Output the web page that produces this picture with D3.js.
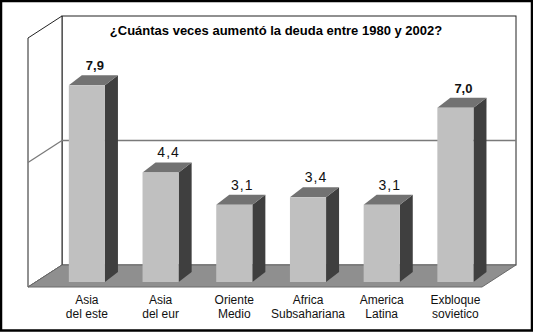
<!DOCTYPE html>
<html>
<head>
<meta charset="utf-8">
<script src="https://cdn.jsdelivr.net/npm/d3@7"></script>
<style>
  html, body { margin: 0; padding: 0; background: #fff; }
  svg { display: block; font-family: "Liberation Sans", Arial, sans-serif; }
</style>
</head>
<body>
<svg id="chart" width="533" height="332"></svg>
<script>
// Debt growth multiples by region, 1980 to 2002
const title = "¿Cuántas veces aumentó la deuda entre 1980 y 2002?";
const categories = [
  "Asia\ndel este",
  "Asia\ndel eur",
  "Oriente\nMedio",
  "Africa\nSubsahariana",
  "America\nLatina",
  "Exbloque\nsovietico"
];
const values = [7.9, 4.4, 3.1, 3.4, 3.1, 7.0];
const gridTicks = [5];

const svg = d3.select("#chart");
const W = 533, H = 332;

// 3-D box geometry
const depthX = 34, depthY = 22;          // wall/floor depth offset
const wallLeft = 62, wallRight = 516;
const floorBack = 265, wallTop = 16;
const barBase = 282;                      // front bottom edge of each column
const barDX = 13, barDY = 10;             // column depth offset

const wallY = d3.scaleLinear().domain([0, 10]).range([floorBack, wallTop]);
const barY = d3.scaleLinear().domain([0, 10]).range([barBase, 33]);
const x = d3.scaleBand().domain(categories).range([50.4, 491.9])
  .paddingInner(0.51).paddingOuter(0.25);

svg.append("rect").attr("width", W).attr("height", H).attr("fill", "#fff");

// back wall
svg.append("rect")
  .attr("x", wallLeft).attr("y", wallY(10))
  .attr("width", wallRight - wallLeft).attr("height", floorBack - wallY(10))
  .attr("fill", "#fff").attr("stroke", "#222").attr("stroke-width", 1);

// left side wall
svg.append("polygon")
  .attr("points", [
    [wallLeft - depthX, wallY(10) + depthY],
    [wallLeft, wallY(10)],
    [wallLeft, floorBack],
    [wallLeft - depthX, floorBack + depthY]
  ].map(p => p.join(",")).join(" "))
  .attr("fill", "#fff").attr("stroke", "#222").attr("stroke-width", 1);

// gridlines on back and side walls
const grid = svg.append("g").attr("stroke", "#7a7a7a").attr("stroke-width", 1.3).attr("fill", "none");
gridTicks.forEach(t => {
  grid.append("line")
    .attr("x1", wallLeft).attr("x2", wallRight)
    .attr("y1", wallY(t)).attr("y2", wallY(t));
  grid.append("line")
    .attr("x1", wallLeft - depthX).attr("y1", wallY(t) + depthY)
    .attr("x2", wallLeft).attr("y2", wallY(t));
});

// floor
svg.append("polygon")
  .attr("points", [
    [wallLeft - depthX, floorBack + depthY],
    [wallLeft, floorBack],
    [wallRight, floorBack],
    [wallRight - depthX, floorBack + depthY]
  ].map(p => p.join(",")).join(" "))
  .attr("fill", "#8f8f8f").attr("stroke", "#6a6a6a").attr("stroke-width", 1);

// columns
const data = categories.map((c, i) => ({ c, v: values[i] }));
const bw = x.bandwidth();
const bars = svg.append("g").selectAll("g").data(data).join("g");

bars.append("polygon") // side face
  .attr("points", d => {
    const x0 = x(d.c) + bw, yt = barY(d.v);
    return [[x0, yt], [x0 + barDX, yt - barDY], [x0 + barDX, barBase - barDY], [x0, barBase]]
      .map(p => p.join(",")).join(" ");
  })
  .attr("fill", "#3f3f3f");

bars.append("polygon") // top face
  .attr("points", d => {
    const x0 = x(d.c), yt = barY(d.v);
    return [[x0, yt], [x0 + barDX, yt - barDY], [x0 + bw + barDX, yt - barDY], [x0 + bw, yt]]
      .map(p => p.join(",")).join(" ");
  })
  .attr("fill", "#727272");

bars.append("rect") // front face
  .attr("x", d => x(d.c)).attr("y", d => barY(d.v))
  .attr("width", bw).attr("height", d => barBase - barY(d.v))
  .attr("fill", "#c0c0c0");

// value labels
const fmt = v => d3.format(".1f")(v).replace(".", ",");
bars.append("text")
  .attr("x", d => x(d.c) + bw / 2 + 8)
  .attr("y", d => barY(d.v) - 15)
  .attr("text-anchor", "middle")
  .attr("font-size", d => d.v > 5 ? 13 : 14)
  .attr("font-weight", d => d.v > 5 ? "bold" : "normal")
  .attr("letter-spacing", d => d.v > 5 ? 0 : 1)
  .attr("fill", "#111")
  .text(d => fmt(d.v));

// category labels
const labels = svg.append("g").selectAll("text").data(categories).join("text")
  .attr("text-anchor", "middle")
  .attr("font-size", 12)
  .attr("fill", "#111");
labels.each(function (c) {
  const t = d3.select(this);
  c.split("\n").forEach((line, i) => {
    t.append("tspan")
      .attr("x", x(c) + bw / 2)
      .attr("y", 304 + i * 14)
      .text(line);
  });
});

// title
svg.append("text")
  .attr("x", 276).attr("y", 35)
  .attr("text-anchor", "middle")
  .attr("font-size", 13).attr("font-weight", "bold")
  .attr("fill", "#000")
  .text(title);

// outer frame
svg.append("rect")
  .attr("x", 1).attr("y", 1).attr("width", W - 2).attr("height", H - 2.5)
  .attr("fill", "none").attr("stroke", "#000").attr("stroke-width", 2.5);
</script>
</body>
</html>
